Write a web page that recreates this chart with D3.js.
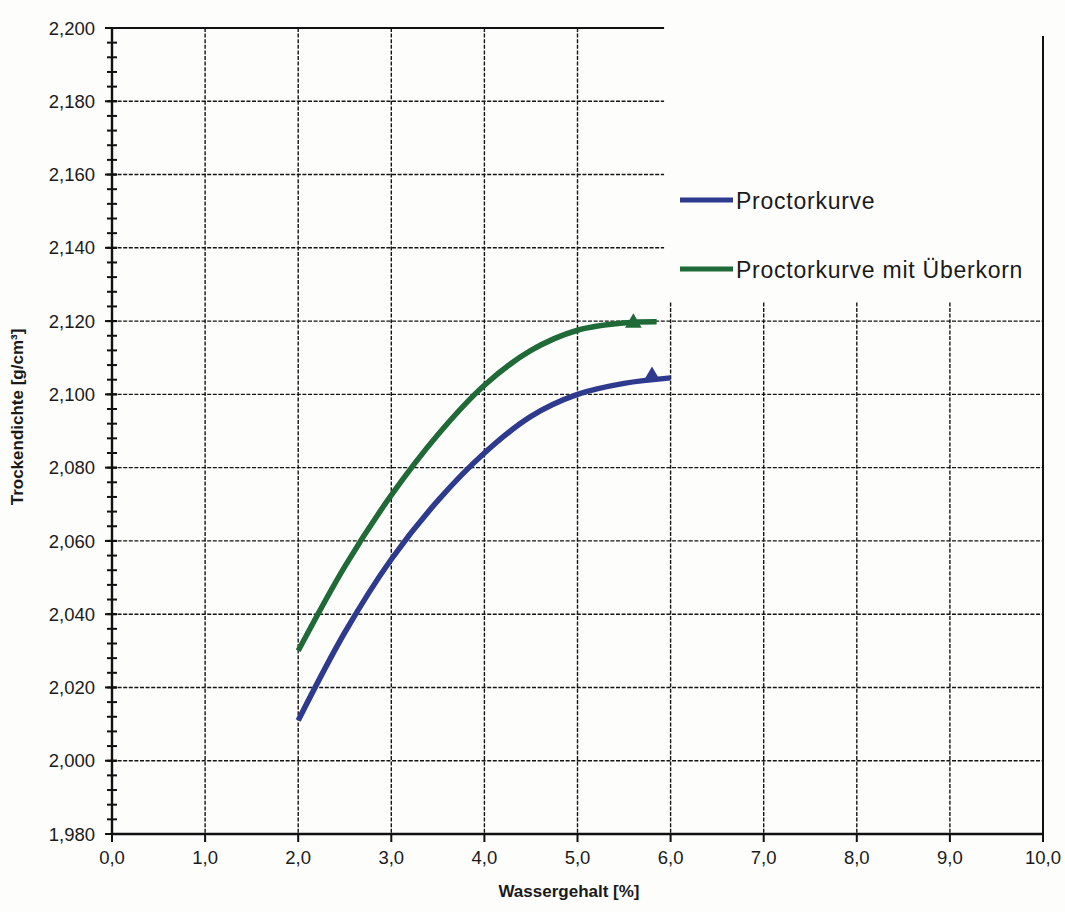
<!DOCTYPE html>
<html>
<head>
<meta charset="utf-8">
<script src="https://cdn.jsdelivr.net/npm/d3@7"></script>
<style>
  body { margin: 0; background: #fdfdfb; }
  text { font-family: "Liberation Sans", Arial, sans-serif; fill: #1a1a1a; }
  .grid line { stroke: #151515; stroke-width: 1.4; stroke-dasharray: 4 1.6; }
  .axisline { stroke: #111; stroke-width: 2.4; }
  .tick-mark { stroke: #111; stroke-width: 2; }
</style>
</head>
<body>
<script>
// Wassergehalt [%] / Trockendichte [g/cm3]
var moisture = [2.0, 2.5, 3.0, 3.5, 4.0, 4.5, 5.0, 5.5, 6.0];
var density = [2.011, 2.035, 2.055, 2.071, 2.084, 2.094, 2.100, 2.103, 2.1045];
var moistureOver = [2.0, 2.5, 3.0, 3.5, 4.0, 4.5, 5.0, 5.5, 5.85];
var densityOver = [2.030, 2.053, 2.0725, 2.089, 2.1025, 2.112, 2.1175, 2.1195, 2.1198];
// maxima (triangles)
var peakMoisture = [5.8, 5.6];
var peakDensity = [2.105, 2.1195];
var seriesNames = ["Proctorkurve", "Proctorkurve mit \u00dcberkorn"];
var seriesColors = ["#2e3a8e", "#1f6a37"];
var xTicks = [0, 1, 2, 3, 4, 5, 6, 7, 8, 9, 10];
var yTicks = [1.98, 2.00, 2.02, 2.04, 2.06, 2.08, 2.10, 2.12, 2.14, 2.16, 2.18, 2.20];

var W = 1065, H = 912,
  margin = {top: 28, right: 22, bottom: 78, left: 112},
  width = W - margin.left - margin.right,
  height = H - margin.top - margin.bottom;

var svg = d3.select("body").append("svg")
  .attr("width", W)
  .attr("height", H);

var g = svg.append("g")
  .attr("transform", "translate(" + margin.left + "," + margin.top + ")");

var x = d3.scaleLinear().domain([0, 10]).range([0, width]);
var y = d3.scaleLinear().domain([1.98, 2.20]).range([height, 0]);

var fmtY = function (d) { return d3.format(".3f")(d).replace(".", ","); };
var fmtX = function (d) { return d3.format(".1f")(d).replace(".", ","); };

// dashed grid
var grid = g.append("g").attr("class", "grid");
grid.selectAll(".gx").data(xTicks.slice(1, -1)).enter().append("line")
  .attr("x1", function (d) { return x(d); })
  .attr("x2", function (d) { return x(d); })
  .attr("y1", 0).attr("y2", height);
grid.selectAll(".gy").data(yTicks.slice(1, -1)).enter().append("line")
  .attr("x1", 0).attr("x2", width)
  .attr("y1", function (d) { return y(d); })
  .attr("y2", function (d) { return y(d); });

// top frame line (partly hidden under the legend)
g.append("line").attr("class", "axisline")
  .attr("x1", 0).attr("x2", width)
  .attr("y1", y(2.20)).attr("y2", y(2.20))
  .style("stroke-width", 2);

// legend background hides the grid in the upper right
g.append("rect")
  .attr("x", x(5.93))
  .attr("y", -margin.top)
  .attr("width", x(10) - x(5.93) + 4)
  .attr("height", y(2.1255) + margin.top)
  .attr("fill", "#fdfdfb");

// right frame line
g.append("line").attr("class", "axisline")
  .attr("x1", x(10)).attr("x2", x(10))
  .attr("y1", y(2.20) + 8).attr("y2", height)
  .style("stroke-width", 2);

// axes
g.append("line").attr("class", "axisline")
  .attr("x1", 0).attr("x2", 0).attr("y1", 0).attr("y2", height);
g.append("line").attr("class", "axisline")
  .attr("x1", 0).attr("x2", width).attr("y1", height).attr("y2", height);

// y minor ticks (0,004 steps)
var minor = d3.range(0, 56).map(function (i) { return +(1.98 + i * 0.004).toFixed(3); });
g.selectAll(".ymin").data(minor).enter().append("line")
  .attr("class", "tick-mark")
  .attr("x1", -5).attr("x2", 5)
  .attr("y1", function (d) { return y(d); })
  .attr("y2", function (d) { return y(d); });
g.selectAll(".ymaj").data(yTicks).enter().append("line")
  .attr("class", "tick-mark")
  .attr("x1", -7).attr("x2", 5)
  .attr("y1", function (d) { return y(d); })
  .attr("y2", function (d) { return y(d); });
g.selectAll(".ylab").data(yTicks).enter().append("text")
  .attr("x", -17)
  .attr("y", function (d) { return y(d); })
  .attr("dy", "0.36em")
  .attr("text-anchor", "end")
  .style("font-size", "18.5px")
  .text(fmtY);

// x ticks
g.selectAll(".xmaj").data(xTicks).enter().append("line")
  .attr("class", "tick-mark")
  .attr("x1", function (d) { return x(d); })
  .attr("x2", function (d) { return x(d); })
  .attr("y1", height).attr("y2", height + 8);
g.selectAll(".xlab").data(xTicks).enter().append("text")
  .attr("x", function (d) { return x(d); })
  .attr("y", height + 30)
  .attr("text-anchor", "middle")
  .style("font-size", "18.5px")
  .text(fmtX);

// axis titles
svg.append("text")
  .attr("x", 569).attr("y", 897)
  .attr("text-anchor", "middle")
  .style("font-size", "17px").style("font-weight", "bold")
  .text("Wassergehalt [%]");
svg.append("text")
  .attr("transform", "translate(23,417) rotate(-90)")
  .attr("text-anchor", "middle")
  .style("font-size", "17px").style("font-weight", "bold")
  .text("Trockendichte [g/cm\u00b3]");

// curves
var line = d3.line()
  .x(function (d) { return x(d[0]); })
  .y(function (d) { return y(d[1]); })
  .curve(d3.curveCatmullRom.alpha(0.5));

var series = [d3.zip(moisture, density), d3.zip(moistureOver, densityOver)];

g.selectAll(".curve").data(series).enter().append("path")
  .attr("d", line)
  .attr("fill", "none")
  .attr("stroke", function (d, i) { return seriesColors[i]; })
  .attr("stroke-width", 5.5)
  .attr("stroke-linecap", "butt");

g.selectAll(".peak").data(d3.zip(peakMoisture, peakDensity)).enter().append("path")
  .attr("d", d3.symbol().type(d3.symbolTriangle).size(120))
  .attr("transform", function (d) { return "translate(" + x(d[0]) + "," + y(d[1]) + ")"; })
  .attr("fill", function (d, i) { return seriesColors[i]; });

// legend
var legend = svg.append("g");
var item = legend.selectAll("g").data(seriesNames).enter().append("g")
  .attr("transform", function (d, i) { return "translate(680," + (200 + i * 69) + ")"; });
item.append("line")
  .attr("x1", 0).attr("x2", 53)
  .attr("stroke", function (d, i) { return seriesColors[i]; })
  .attr("stroke-width", 5);
item.append("text")
  .attr("x", 56).attr("y", 9)
  .style("font-size", "23px")
  .style("letter-spacing", "0.75px")
  .text(function (d) { return d; });
</script>
</body>
</html>
